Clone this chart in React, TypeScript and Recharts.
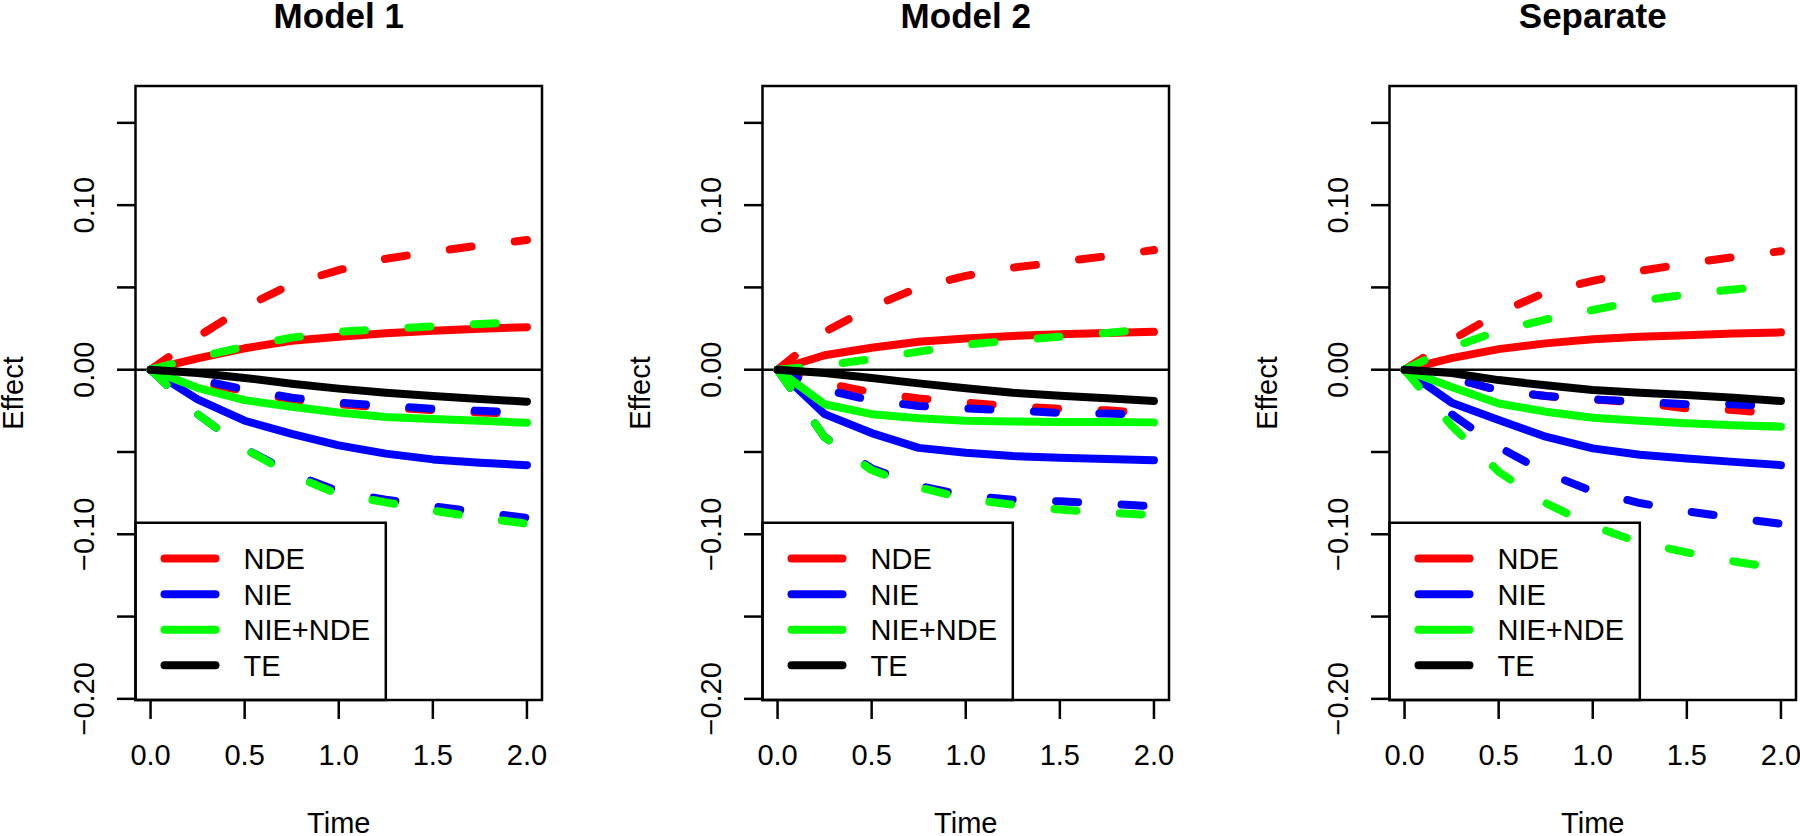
import React from 'react';
import { LineChart, Line, XAxis, YAxis, ReferenceArea, ReferenceLine, Legend } from 'recharts';

// ---------- data ----------
const time = [0, 0.25, 0.5, 0.75, 1, 1.25, 1.5, 1.75, 2];

// Model 1
const m1Nde = [0, 0.0069, 0.013, 0.0176, 0.02, 0.0221, 0.0237, 0.0249, 0.0258];
const m1NdeHi = [0, 0.02, 0.038, 0.052, 0.0605, 0.0674, 0.0717, 0.0755, 0.0788];
const m1NdeLo = [0, -0.007, -0.013, -0.018, -0.021, -0.023, -0.0245, -0.026, -0.027];
const m1Nie = [0, -0.018, -0.031, -0.039, -0.046, -0.051, -0.0545, -0.0565, -0.058];
const m1NieHi = [0, -0.006, -0.012, -0.017, -0.02, -0.022, -0.0237, -0.025, -0.026];
const m1NieLo = [0, -0.027, -0.048, -0.063, -0.074, -0.079, -0.083, -0.0865, -0.09];
const m1Sum = [0, -0.011, -0.0185, -0.0225, -0.026, -0.0287, -0.03, -0.031, -0.0322];
const m1SumHi = [0, 0.0075, 0.014, 0.0195, 0.023, 0.0248, 0.0263, 0.0278, 0.029];
const m1SumLo = [0, -0.027, -0.048, -0.064, -0.0757, -0.0806, -0.0856, -0.09, -0.0935];
const m1Te = [0, -0.002, -0.005, -0.0085, -0.0115, -0.014, -0.016, -0.0178, -0.0194];

// Model 2
const m2Nde = [0, 0.0088, 0.0133, 0.017, 0.019, 0.0205, 0.0215, 0.0223, 0.023];
const m2NdeHi = [0, 0.023, 0.038, 0.05, 0.057, 0.062, 0.0655, 0.069, 0.0727];
const m2NdeLo = [0, -0.008, -0.0138, -0.0175, -0.02, -0.0222, -0.0238, -0.0247, -0.0266];
const m2Nie = [0, -0.027, -0.0385, -0.0475, -0.0505, -0.0525, -0.0535, -0.0543, -0.055];
const m2NieHi = [0, -0.012, -0.0187, -0.022, -0.0235, -0.0248, -0.0262, -0.0266, -0.0278];
const m2NieLo = [0, -0.041, -0.06, -0.0705, -0.0765, -0.079, -0.08, -0.0815, -0.083];
const m2Sum = [0, -0.021, -0.027, -0.0295, -0.031, -0.0315, -0.0317, -0.0318, -0.032];
const m2SumHi = [0, 0.0025, 0.0065, 0.011, 0.0152, 0.0178, 0.02, 0.0223, 0.025];
const m2SumLo = [0, -0.041, -0.061, -0.0715, -0.0785, -0.082, -0.085, -0.0868, -0.0883];
const m2Te = [0, -0.002, -0.005, -0.0083, -0.0113, -0.014, -0.0158, -0.0173, -0.019];

// Separate
const m3Nde = [0, 0.007, 0.0125, 0.016, 0.0185, 0.02, 0.021, 0.022, 0.0227];
const m3NdeHi = [0, 0.018, 0.0345, 0.047, 0.054, 0.06, 0.0645, 0.0685, 0.072];
const m3NdeLo = [0, -0.005, -0.0125, -0.016, -0.018, -0.02, -0.0235, -0.0245, -0.027];
const m3Nie = [0, -0.02, -0.0306, -0.0407, -0.0478, -0.0517, -0.054, -0.056, -0.058];
const m3NieHi = [0, -0.005, -0.0125, -0.016, -0.018, -0.0195, -0.021, -0.021, -0.0228];
const m3NieLo = [0, -0.027, -0.047, -0.0625, -0.074, -0.081, -0.086, -0.09, -0.0937];
const m3Sum = [0, -0.0105, -0.0205, -0.0255, -0.0292, -0.031, -0.0325, -0.0337, -0.0346];
const m3SumHi = [0, 0.0135, 0.0235, 0.0305, 0.0363, 0.0418, 0.0458, 0.0488, 0.0515];
const m3SumLo = [0, -0.034, -0.062, -0.081, -0.095, -0.105, -0.111, -0.1165, -0.121];
const m3Te = [0, -0.002, -0.0063, -0.0095, -0.0123, -0.014, -0.0154, -0.017, -0.019];

const panelTitles = ['Model 1', 'Model 2', 'Separate'];
const xTicks = [0, 0.5, 1, 1.5, 2];
const xTickLabels = ['0.0', '0.5', '1.0', '1.5', '2.0'];
const yTicks = [-0.2, -0.15, -0.1, -0.05, 0, 0.05, 0.1, 0.15];
const yLabelValues = [-0.2, -0.1, 0, 0.1];
const yLabelTexts = ['\u22120.20', '\u22120.10', '0.00', '0.10'];
const legendLabels = ['NDE', 'NIE', 'NIE+NDE', 'TE'];
const legendColors = ['#ff0000', '#0000ff', '#00ff00', '#000000'];
const xDomain = [-0.08, 2.08];
const yDomain = [-0.2007, 0.1724];
const legendBoxRight = 1.25;
const legendBoxTop = -0.093;

// ---------- build tables ----------
const buildRows = (s: number[][]) =>
  time.map((t, i) => ({
    t,
    nde: s[0][i], ndeHi: s[1][i], ndeLo: s[2][i],
    nie: s[3][i], nieHi: s[4][i], nieLo: s[5][i],
    sum: s[6][i], sumHi: s[7][i], sumLo: s[8][i],
    te: s[9][i],
  }));

const panelData = [
  buildRows([m1Nde, m1NdeHi, m1NdeLo, m1Nie, m1NieHi, m1NieLo, m1Sum, m1SumHi, m1SumLo, m1Te]),
  buildRows([m2Nde, m2NdeHi, m2NdeLo, m2Nie, m2NieHi, m2NieLo, m2Sum, m2SumHi, m2SumLo, m2Te]),
  buildRows([m3Nde, m3NdeHi, m3NdeLo, m3Nie, m3NieHi, m3NieLo, m3Sum, m3SumHi, m3SumLo, m3Te]),
];

const seriesDefs = [
  { key: 'nde', color: legendColors[0], dashed: false },
  { key: 'ndeHi', color: legendColors[0], dashed: true },
  { key: 'ndeLo', color: legendColors[0], dashed: true },
  { key: 'nie', color: legendColors[1], dashed: false },
  { key: 'nieHi', color: legendColors[1], dashed: true },
  { key: 'nieLo', color: legendColors[1], dashed: true },
  { key: 'sum', color: legendColors[2], dashed: false },
  { key: 'sumHi', color: legendColors[2], dashed: true },
  { key: 'sumLo', color: legendColors[2], dashed: true },
  { key: 'te', color: legendColors[3], dashed: false },
];

// ---------- styling ----------
const FONT = '"Liberation Sans", Arial, Helvetica, sans-serif';
const FS = 29;
const LW = 8;
const PANEL_W = 627;
const CHART_H = 836;
const MARGIN = { top: 86, right: 85, bottom: 0, left: 0 };
const Y_AXIS_W = 135.5;
const X_AXIS_H = 136;

const XTick = (props: any) => {
  const { x, y, payload } = props;
  const idx = xTicks.findIndex((v) => Math.abs(v - payload.value) < 1e-9);
  if (idx < 0) return <g />;
  return (
    <text x={x} y={y + 46} textAnchor="middle" fontFamily={FONT} fontSize={FS} fill="#000">
      {xTickLabels[idx]}
    </text>
  );
};

const YTick = (props: any) => {
  const { x, y, payload } = props;
  const idx = yLabelValues.findIndex((v) => Math.abs(v - payload.value) < 1e-9);
  if (idx < 0) return <g />;
  const bx = x - 23.2;
  return (
    <text
      x={bx}
      y={y}
      transform={`rotate(-90, ${bx}, ${y})`}
      textAnchor="middle"
      fontFamily={FONT}
      fontSize={FS}
      fill="#000"
    >
      {yLabelTexts[idx]}
    </text>
  );
};

const TimeLabel = (props: any) => {
  const vb = props.viewBox || {};
  return (
    <text x={vb.x + vb.width / 2} y={vb.y + 133} textAnchor="middle" fontFamily={FONT} fontSize={FS} fill="#000">
      Time
    </text>
  );
};

const EffectLabel = (props: any) => {
  const vb = props.viewBox || {};
  const bx = vb.x + vb.width - 112.8;
  const cy = vb.y + vb.height / 2;
  return (
    <text x={bx} y={cy} transform={`rotate(-90, ${bx}, ${cy})`} textAnchor="middle" fontFamily={FONT} fontSize={FS} fill="#000">
      Effect
    </text>
  );
};

const makeTitle = (title: string) => (props: any) => {
  const vb = props.viewBox || {};
  return (
    <text x={vb.x + vb.width / 2} y={vb.y - 58} textAnchor="middle" fontFamily={FONT} fontSize={35} fontWeight="bold" fill="#000">
      {title}
    </text>
  );
};

const LegendContent = () => {
  const rowTop = 35.6;
  const step = 35.55;
  return (
    <svg width={250} height={178} style={{ display: 'block', overflow: 'visible' }}>
      {legendLabels.map((lab, i) => {
        const cy = rowTop + i * step;
        return (
          <g key={lab}>
            <line x1={28.5} x2={79.5} y1={cy} y2={cy} stroke={legendColors[i]} strokeWidth={LW} strokeLinecap="round" />
            <text x={107.5} y={cy + 10.4} fontFamily={FONT} fontSize={FS} fill="#000">
              {lab}
            </text>
          </g>
        );
      })}
    </svg>
  );
};

const Panel = ({ index }: { index: number }) => {
  const data = panelData[index];
  return (
    <div style={{ position: 'absolute', left: index * PANEL_W, top: 0 }}>
      <LineChart width={PANEL_W} height={CHART_H} data={data} margin={MARGIN}>
        <XAxis
          dataKey="t"
          type="number"
          domain={xDomain}
          ticks={xTicks}
          allowDataOverflow
          interval={0}
          height={X_AXIS_H}
          tickSize={19}
          tickMargin={0}
          axisLine={false}
          tickLine={{ stroke: '#000', strokeWidth: 2.5 }}
          tick={(p: any) => <XTick {...p} />}
          label={{ content: TimeLabel }}
        />
        <YAxis
          type="number"
          domain={yDomain}
          ticks={yTicks}
          allowDataOverflow
          interval={0}
          width={Y_AXIS_W}
          tickSize={18.5}
          tickMargin={0}
          axisLine={false}
          tickLine={{ stroke: '#000', strokeWidth: 2.5 }}
          tick={(p: any) => <YTick {...p} />}
          label={{ content: EffectLabel }}
        />
        <ReferenceLine y={0} stroke="#000" strokeWidth={2.5} />
        {seriesDefs.map((s) => (
          <Line
            key={s.key}
            dataKey={s.key}
            type="linear"
            stroke={s.color}
            strokeWidth={LW}
            strokeDasharray={s.dashed ? '22 43.5' : undefined}
            strokeLinecap="round"
            strokeLinejoin="round"
            dot={false}
            activeDot={false}
            isAnimationActive={false}
          />
        ))}
        <ReferenceArea
          x1={xDomain[0]}
          x2={legendBoxRight}
          y1={yDomain[0]}
          y2={legendBoxTop}
          fill="none"
          fillOpacity={0}
          stroke="#000"
          strokeWidth={2.5}
        />
        <ReferenceArea
          x1={xDomain[0]}
          x2={xDomain[1]}
          y1={yDomain[0]}
          y2={yDomain[1]}
          fill="none"
          fillOpacity={0}
          stroke="#000"
          strokeWidth={2.5}
          label={{ content: makeTitle(panelTitles[index]) }}
        />
        <Legend
          layout="vertical"
          align="center"
          verticalAlign="middle"
          content={LegendContent}
          wrapperStyle={{ left: 135.5, top: 522.7, width: 250, height: 178 }}
        />
      </LineChart>
    </div>
  );
}

export default function App() {
  return (
    <div
      style={{
        position: 'absolute',
        left: 0,
        top: 0,
        width: 1800,
        height: 836,
        overflow: 'hidden',
        background: '#fff',
        fontFamily: FONT,
      }}
    >
      {[0, 1, 2].map((i) => (
        <Panel key={i} index={i} />
      ))}
    </div>
  );
}
